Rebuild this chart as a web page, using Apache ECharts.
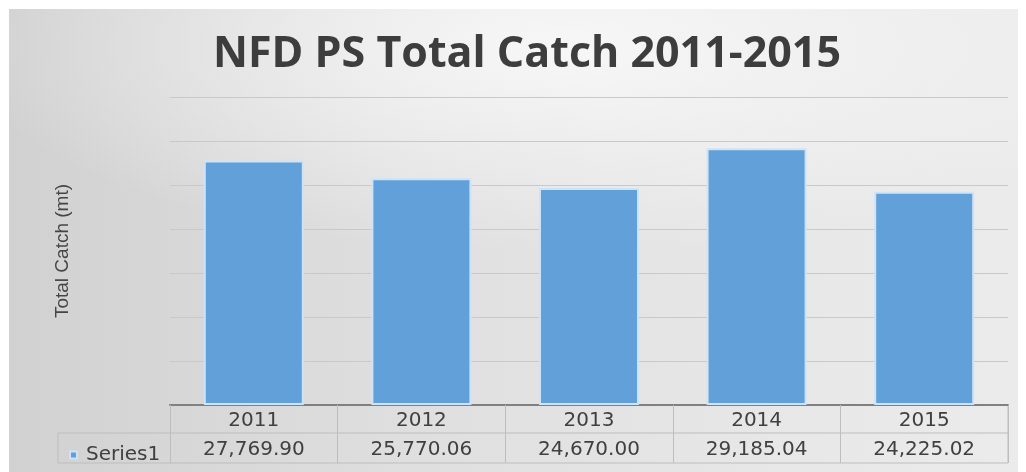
<!DOCTYPE html>
<html>
<head>
<meta charset="utf-8">
<script src="https://cdn.jsdelivr.net/npm/echarts@6/dist/echarts.min.js"></script>
<style>
  html, body { margin: 0; padding: 0; background: #ffffff; }
  #panel {
    position: absolute; left: 9px; top: 9px; width: 1009px; height: 463px;
    background:
      radial-gradient(ellipse 60% 45% at 55% 8%, rgba(248,248,248,0.95), rgba(248,248,248,0) 100%),
      linear-gradient(to right, #d1d1d1 0%, #dfdfdf 40%, #e7e7e7 75%, #ebebeb 100%);
  }
  #chart { position: absolute; left: 0; top: 0; width: 1026px; height: 472px; }
</style>
</head>
<body>
<div id="panel"></div>
<div id="chart"></div>
<script>
// Total catch per year (metric tonnes)
const years = ['2011', '2012', '2013', '2014', '2015'];
const catchValues = [27769.90, 25770.06, 24670.00, 29185.04, 24225.02];
const seriesName = 'Series1';
const chartTitle = 'NFD PS Total Catch 2011-2015';
const yAxisTitle = 'Total Catch (mt)';

const fmt = v => v.toLocaleString('en-US', { minimumFractionDigits: 2, maximumFractionDigits: 2 });

const tableFont = 'DejaVu Sans';
const tableSize = 20;
const tableColor = '#404040';
const borderColor = '#bdbdbd';

const chart = echarts.init(document.getElementById('chart'), null, { renderer: 'canvas' });

chart.setOption({
  backgroundColor: 'transparent',
  animation: false,
  title: {
    text: chartTitle,
    left: 208,
    top: 28,
    textStyle: { fontFamily: 'Open Sans', fontWeight: 'bold', fontSize: 43, color: '#3d3d3d' }
  },
  legend: {
    data: [seriesName],
    left: 64,
    top: 440,
    icon: 'rect',
    itemWidth: 7,
    itemHeight: 7,
    itemGap: 6,
    textStyle: { fontFamily: tableFont, fontSize: tableSize, color: tableColor, padding: [0, 0, 0, 4] }
  },
  grid: { left: 170, right: 18, top: 97, bottom: 67, containLabel: false },
  xAxis: [
    {
      type: 'category',
      data: years,
      position: 'bottom',
      axisLine: { show: true, lineStyle: { color: '#808080', width: 2 } },
      axisTick: { show: true, interval: 0, length: 58, lineStyle: { color: borderColor, width: 1 } },
      axisLabel: { margin: 6, fontFamily: tableFont, fontSize: tableSize, color: tableColor }
    },
    {
      type: 'category',
      data: years,
      position: 'bottom',
      axisLine: { show: false },
      axisTick: { show: false },
      axisLabel: {
        margin: 35,
        fontFamily: tableFont, fontSize: tableSize, color: tableColor,
        formatter: (val, idx) => fmt(catchValues[idx])
      }
    }
  ],
  yAxis: {
    type: 'value',
    min: 0,
    max: 35000,
    interval: 5000,
    name: yAxisTitle,
    nameLocation: 'middle',
    nameGap: 98,
    nameTextStyle: { fontFamily: 'Liberation Sans', fontSize: 19, color: '#454545' },
    axisLine: { show: false },
    axisTick: { show: false },
    axisLabel: { show: false },
    splitLine: { show: true, lineStyle: { color: '#c9c9c9', width: 1 } }
  },
  series: [
    {
      name: seriesName,
      type: 'bar',
      data: catchValues,
      barWidth: 100,
      itemStyle: { color: '#62a0d9', borderColor: '#cfe3f6', borderWidth: 2 }
    }
  ],
  graphic: [
    // data table borders
    { type: 'line', shape: { x1: 58, y1: 433, x2: 1008, y2: 433 }, style: { stroke: borderColor, lineWidth: 1 }, silent: true },
    { type: 'line', shape: { x1: 58, y1: 463, x2: 1008, y2: 463 }, style: { stroke: borderColor, lineWidth: 1 }, silent: true },
    { type: 'line', shape: { x1: 58, y1: 433, x2: 58, y2: 463 }, style: { stroke: borderColor, lineWidth: 1 }, silent: true },
    { type: 'line', shape: { x1: 1008, y1: 405, x2: 1008, y2: 463 }, style: { stroke: borderColor, lineWidth: 1 }, silent: true }
  ]
});
</script>
</body>
</html>
